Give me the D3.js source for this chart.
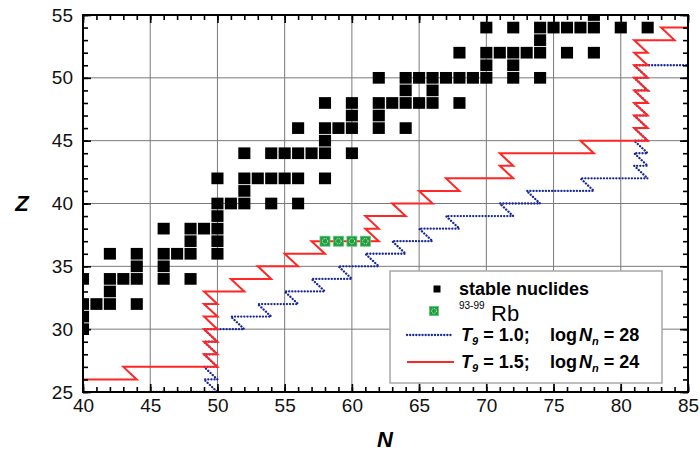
<!DOCTYPE html>
<html>
<head>
<meta charset="utf-8">
<script src="https://cdn.jsdelivr.net/npm/d3@7"></script>
<style>
  body { margin: 0; background: #fff; }
  svg { font-family: "Liberation Sans", Arial, sans-serif; }
</style>
</head>
<body>
<div id="chart"></div>
<script>
// Stable nuclides: list of neutron numbers N for each proton number Z
const stableZ = [30, 31, 32, 33, 34, 35, 36, 37, 38, 39, 40, 41, 42, 44, 45, 46, 47, 48, 49, 50, 51, 52, 53, 54, 55];
const stableN = [
  [40], [40], [40, 41, 42, 44], [42], [40, 42, 43, 44, 46, 48], [44, 46],
  [42, 44, 46, 47, 48, 50], [48, 50], [46, 48, 49, 50], [50], [50, 51, 52, 54, 56], [52],
  [50, 52, 53, 54, 55, 56, 58], [52, 54, 55, 56, 57, 58, 60], [58], [56, 58, 59, 60, 62, 64],
  [60, 62], [58, 60, 62, 63, 64, 65, 66, 68], [64, 66], [62, 64, 65, 66, 67, 68, 69, 70, 72, 74],
  [70, 72], [68, 70, 71, 72, 73, 74, 76, 78], [74], [70, 72, 74, 75, 76, 77, 78, 80, 82], [78]
];

// 93-99Rb
const rbZ = 37;
const rbN = [58, 59, 60, 61];

// r-process path, T9 = 1.0, log Nn = 28 (blue)
const blueN = [45, 50, 49, 50, 49, 50, 49, 50, 49, 50, 49, 52, 51, 54, 53, 56, 55, 58, 57, 60, 59, 62, 61, 64,
  63, 66, 65, 68, 67, 72, 71, 74, 73, 78, 77, 82, 81, 82, 81, 82, 81, 82, 81, 82, 81, 82, 81, 82, 81, 82, 81, 82, 81, 85];
const blueZ = [25, 25, 26, 26, 27, 27, 28, 28, 29, 29, 30, 30, 31, 31, 32, 32, 33, 33, 34, 34, 35, 35, 36, 36,
  37, 37, 38, 38, 39, 39, 40, 40, 41, 41, 42, 42, 43, 43, 44, 44, 45, 45, 46, 46, 47, 47, 48, 48, 49, 49, 50, 50, 51, 51];

// r-process path, T9 = 1.5, log Nn = 24 (red)
const redN = [40, 44, 43, 50, 49, 50, 49, 50, 49, 50, 49, 50, 49, 50, 49, 52, 51, 54, 53, 56, 55, 58, 57, 62,
  61, 62, 61, 64, 63, 66, 65, 68, 67, 72, 71, 72, 71, 78, 77, 82, 81, 82, 81, 82, 81, 82, 81, 82, 81, 82,
  81, 82, 81, 82, 81, 84, 83, 85];
const redZ = [26, 26, 27, 27, 28, 28, 29, 29, 30, 30, 31, 31, 32, 32, 33, 33, 34, 34, 35, 35, 36, 36, 37, 37,
  38, 38, 39, 39, 40, 40, 41, 41, 42, 42, 43, 43, 44, 44, 45, 45, 46, 46, 47, 47, 48, 48, 49, 49, 50, 50,
  51, 51, 52, 52, 53, 53, 54, 54];

const xTicks = [40, 45, 50, 55, 60, 65, 70, 75, 80, 85];
const yTicks = [25, 30, 35, 40, 45, 50, 55];

// Set the dimensions and margins of the graph
const margin = { top: 15, right: 12, bottom: 60, left: 83 },
  width = 700 - margin.left - margin.right,
  height = 452 - margin.top - margin.bottom;

const svgRoot = d3.select("#chart").append("svg")
  .attr("width", 700)
  .attr("height", 452);

const svg = svgRoot.append("g")
  .attr("transform", "translate(" + margin.left + "," + margin.top + ")");

const x = d3.scaleLinear().domain([40, 85]).range([0, width]);
const y = d3.scaleLinear().domain([25, 55]).range([height, 0]);

svg.append("clipPath").attr("id", "clip")
  .append("rect").attr("width", width).attr("height", height);

// grid lines at major ticks
svg.append("g").selectAll("line")
  .data(xTicks.slice(1, -1))
  .enter().append("line")
  .attr("x1", d => x(d)).attr("x2", d => x(d))
  .attr("y1", 0).attr("y2", height)
  .attr("stroke", "#7a7a7a").attr("stroke-width", 1);
svg.append("g").selectAll("line")
  .data(yTicks.slice(1, -1))
  .enter().append("line")
  .attr("y1", d => y(d)).attr("y2", d => y(d))
  .attr("x1", 0).attr("x2", width)
  .attr("stroke", "#7a7a7a").attr("stroke-width", 1);

const plot = svg.append("g").attr("clip-path", "url(#clip)");

// stable nuclides
const stable = [];
stableZ.forEach((z, i) => stableN[i].forEach(n => stable.push({ n: n, z: z })));
const sw = (x(41) - x(40)) * 0.9, sh = (y(25) - y(26)) * 0.93;
plot.selectAll(".stable")
  .data(stable)
  .enter().append("rect")
  .attr("class", "stable")
  .attr("x", d => x(d.n) - sw / 2)
  .attr("y", d => y(d.z) - sh / 2)
  .attr("width", sw)
  .attr("height", sh)
  .attr("fill", "#000");

const line = d3.line().x(d => x(d[0])).y(d => y(d[1]));

// blue dotted path
plot.append("path")
  .attr("d", line(blueN.map((n, i) => [n, blueZ[i]])))
  .attr("fill", "none")
  .attr("stroke", "#1a2896")
  .attr("stroke-width", 2.3)
  .attr("stroke-linecap", "round")
  .attr("stroke-dasharray", "0.1 3");

// red path
plot.append("path")
  .attr("d", line(redN.map((n, i) => [n, redZ[i]])))
  .attr("fill", "none")
  .attr("stroke", "#ff2626")
  .attr("stroke-width", 2);

// Rb markers
function rbMarker(g, cx, cy, s) {
  g.append("rect")
    .attr("x", cx - s / 2).attr("y", cy - s / 2)
    .attr("width", s).attr("height", s)
    .attr("fill", "#1f9e3e").attr("stroke", "#5cc277").attr("stroke-width", 0.8);
  g.append("circle")
    .attr("cx", cx).attr("cy", cy).attr("r", s * 0.27)
    .attr("fill", "none").attr("stroke", "#d8f2dd").attr("stroke-width", 1)
    .attr("stroke-dasharray", "1.2 1");
}
rbN.forEach(n => rbMarker(plot.append("g"), x(n), y(rbZ), 10));

// axes: inward ticks on all four sides
function drawAxis(axisFn, scale, transform, major) {
  const minor = d3.range(scale.domain()[0], scale.domain()[1] + 1);
  svg.append("g").attr("transform", transform)
    .call(axisFn(scale).tickValues(minor).tickSizeInner(-5).tickSizeOuter(0).tickFormat(""))
    .call(g => g.select(".domain").remove())
    .call(g => g.selectAll("line").attr("stroke-width", 1.6));
  const ax = svg.append("g").attr("transform", transform)
    .call(axisFn(scale).tickValues(major).tickSizeInner(-8).tickSizeOuter(0)
      .tickPadding(axisFn === d3.axisLeft ? 10 : 7).tickFormat(d3.format("d")))
    .call(g => g.select(".domain").remove())
    .call(g => g.selectAll("line").attr("stroke-width", 1.6));
  ax.selectAll("text").attr("fill", "#111").style("font-size", "19px")
    .style("font-family", "'Liberation Sans', Arial, sans-serif");
  return ax;
}
drawAxis(d3.axisBottom, x, "translate(0," + height + ")", xTicks);
drawAxis(d3.axisLeft, y, "translate(0,0)", yTicks);
drawAxis(d3.axisTop, x, "translate(0,0)", xTicks).selectAll("text").remove();
drawAxis(d3.axisRight, y, "translate(" + width + ",0)", yTicks).selectAll("text").remove();

// frame
svg.append("rect")
  .attr("width", width).attr("height", height)
  .attr("fill", "none").attr("stroke", "#000").attr("stroke-width", 2);

// axis titles
svgRoot.append("text")
  .attr("x", 22).attr("y", 211)
  .attr("text-anchor", "middle")
  .style("font-size", "22px").style("font-weight", "bold").style("font-style", "italic")
  .text("Z");
svgRoot.append("text")
  .attr("x", 385).attr("y", 447)
  .attr("text-anchor", "middle")
  .style("font-size", "22px").style("font-weight", "bold").style("font-style", "italic")
  .text("N");

// legend
const lg = svgRoot.append("g");
lg.append("rect")
  .attr("x", 390).attr("y", 271).attr("width", 272).attr("height", 112)
  .attr("fill", "#fff").attr("stroke", "#a8a8a8").attr("stroke-width", 1.5);

lg.append("rect").attr("x", 433.5).attr("y", 285.5).attr("width", 7).attr("height", 7).attr("fill", "#000");
lg.append("text").attr("x", 459).attr("y", 295)
  .style("font-size", "18px").style("font-weight", "bold").text("stable nuclides");

rbMarker(lg, 434, 311, 9);
lg.append("text").attr("x", 459).attr("y", 309)
  .style("font-size", "10px").text("93-99");
lg.append("text").attr("x", 491).attr("y", 321)
  .style("font-size", "22px").text("Rb");

lg.append("line").attr("x1", 407).attr("x2", 451).attr("y1", 335).attr("y2", 335)
  .attr("stroke", "#1a2896").attr("stroke-width", 2.3)
  .attr("stroke-linecap", "round").attr("stroke-dasharray", "0.1 3");
lg.append("line").attr("x1", 407).attr("x2", 454).attr("y1", 362).attr("y2", 362)
  .attr("stroke", "#ff2626").attr("stroke-width", 2);

function legendLabel(yb, t9, logn) {
  const t = lg.append("text").attr("y", yb)
    .style("font-size", "18px").style("font-weight", "bold");
  t.append("tspan").attr("x", 461).style("font-style", "italic").text("T");
  t.append("tspan").attr("dy", 4).style("font-style", "italic").style("font-size", "11px").text("9");
  t.append("tspan").attr("dx", 5).attr("dy", -4).text("= " + t9 + ";");
  t.append("tspan").attr("x", 550).text("log");
  t.append("tspan").attr("dx", 2).style("font-style", "italic").text("N");
  t.append("tspan").attr("dy", 4).style("font-style", "italic").style("font-size", "11px").text("n");
  t.append("tspan").attr("dx", 5).attr("dy", -4).text("= " + logn);
}
legendLabel(341, "1.0", "28");
legendLabel(368, "1.5", "24");
</script>
</body>
</html>
